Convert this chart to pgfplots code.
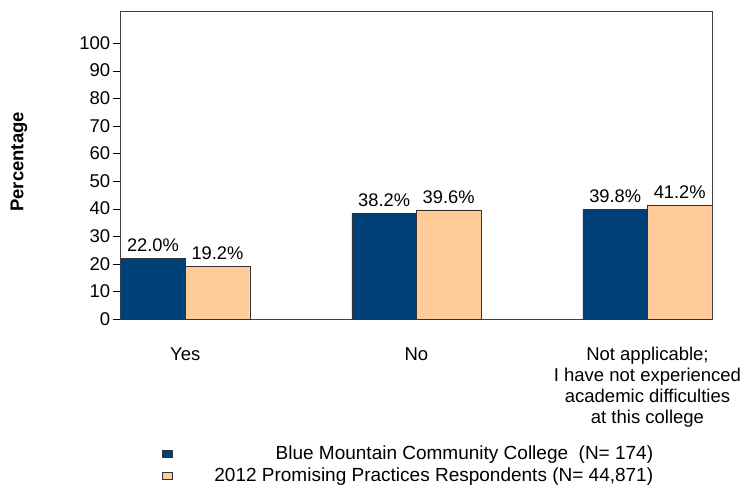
\documentclass[border=0pt]{standalone}
\usepackage{fontspec}
\setmainfont{Liberation Sans}
\usepackage{pgfplots}
\pgfplotsset{compat=1.18}
\definecolor{bmcc}{RGB}{0,64,120}
\definecolor{ppr}{RGB}{255,204,153}
\pgfplotsset{
  sqleg/.style={legend image code/.code={
      \draw[##1,draw=black!80] (0pt,-3.5pt) rectangle (10pt,3.5pt);
      \path (50pt,0pt);}}
}
\begin{document}
\begin{tikzpicture}
\useasboundingbox (-120.7pt,-166pt) rectangle (626.3pt,319pt);
\begin{axis}[
  at={(0,0)}, anchor=south west,
  scale only axis, width=591.3pt, height=308pt,
  ybar=0pt, bar width=64.5pt,
  xmin=-0.2792, xmax=2.2792,
  ymin=0, ymax=111.6,
  xtick={0,1,2},
  xticklabels={Yes,No,{Not applicable;\\I have not experienced\\academic difficulties\\at this college}},
  ytick={0,10,...,100},
  ytick pos=left,
  /pgf/number format/assume math mode=true,
  tick align=outside,
  major tick length=8pt,
  x tick style={draw=none},
  y tick style={black},
  axis line style={black!75},
  ticklabel style={font=\fontsize{18.5}{21}\selectfont},
  yticklabel style={xshift=1pt},
  xticklabel style={align=center, yshift=-17pt},
  ylabel={\textbf{Percentage}},
  ylabel style={at={(axis description cs:-0.172,0.51)}, anchor=center,
    font=\fontsize{18.5}{21}\selectfont},
  nodes near coords={\pgfmathprintnumber[fixed,fixed zerofill,precision=1]{\pgfplotspointmeta}\%},
  every node near coord/.append style={font=\fontsize{18.3}{21}\selectfont, yshift=3pt, black},
  legend style={at={(axis description cs:0.0695,-0.405)}, anchor=north west,
    draw=none, inner sep=0pt, font=\fontsize{19}{22}\selectfont, row sep=3pt},
  legend cell align=right,
]
\addplot[fill=bmcc, draw=black!80, sqleg] coordinates {(0,22.0) (1,38.2) (2,39.8)};
\addplot[fill=ppr, draw=black!80, sqleg] coordinates {(0,19.2) (1,39.6) (2,41.2)};
\legend{{Blue Mountain Community College\ \ (N= 174)},{2012 Promising Practices Respondents (N= 44,871)}}
\end{axis}
\end{tikzpicture}
\end{document}
